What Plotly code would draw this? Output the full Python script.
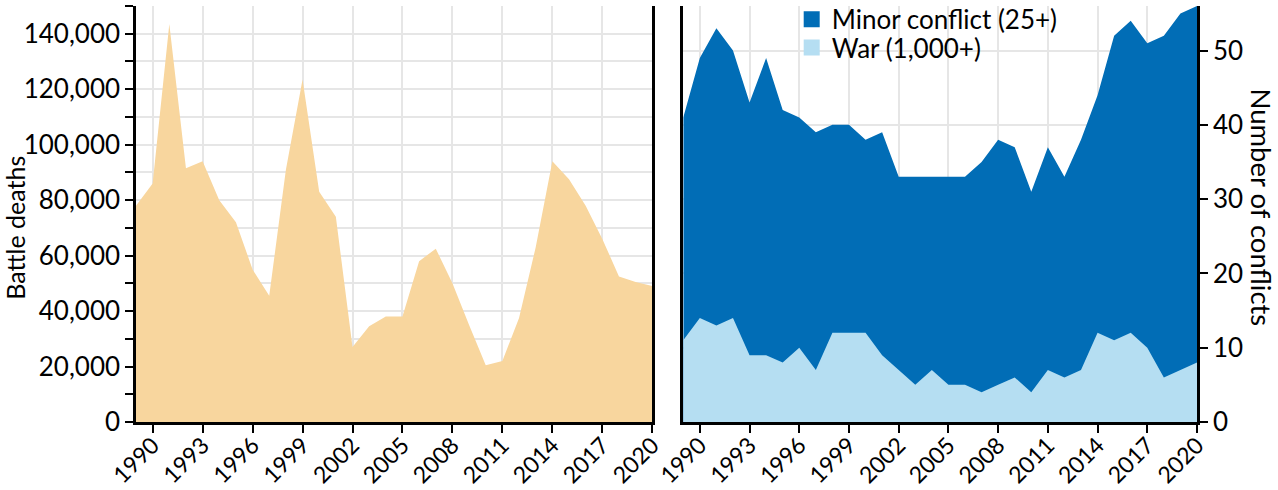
import plotly.graph_objects as go

years = list(range(1989, 2021))

battle_deaths = [78000, 86000, 143500, 91500, 94000, 80000, 72000, 55000,
                 45500, 91000, 123500, 83000, 74000, 27000, 34500, 38000,
                 38000, 58000, 62500, 50000, 35000, 20500, 22000, 37500,
                 63000, 94000, 87500, 78000, 66000, 52500, 50500, 49000]

total_conflicts = [41, 49, 53, 50, 43, 49, 42, 41, 39, 40, 40, 38, 39, 33, 33, 33,
                   33, 33, 35, 38, 37, 31, 37, 33, 38, 44, 52, 54, 51, 52, 55, 56]

wars = [11, 14, 13, 14, 9, 9, 8, 10, 7, 12, 12, 12, 9, 7, 5, 7,
        5, 5, 4, 5, 6, 4, 7, 6, 7, 12, 11, 12, 10, 6, 7, 8]

tick_years = [1990, 1993, 1996, 1999, 2002, 2005, 2008, 2011, 2014, 2017, 2020]
deaths_ticks = [0, 20000, 40000, 60000, 80000, 100000, 120000, 140000]
deaths_labels = ["0", "20,000", "40,000", "60,000", "80,000", "100,000", "120,000", "140,000"]
conflict_ticks = [0, 10, 20, 30, 40, 50]
legend_names = ["Minor conflict (25+)", "War (1,000+)"]

FONT = "Lato"
TAN = "#F8D69E"
DARK = "#016DB6"
LIGHT = "#B5DEF2"
GRID = "#E6E6E6"

fig = go.Figure()
fig.add_trace(go.Scatter(x=years, y=battle_deaths, fill="tozeroy", mode="none",
                         fillcolor=TAN, xaxis="x", yaxis="y", showlegend=False,
                         name="Battle deaths"))
fig.add_trace(go.Scatter(x=years, y=total_conflicts, fill="tozeroy", mode="none",
                         fillcolor=DARK, xaxis="x2", yaxis="y2", showlegend=False,
                         name=legend_names[0]))
fig.add_trace(go.Scatter(x=years, y=wars, fill="tozeroy", mode="none",
                         fillcolor=LIGHT, xaxis="x2", yaxis="y2", showlegend=False,
                         name=legend_names[1]))
# legend swatches (squares), one legend each so rows sit tightly
for nm, col, lg in zip(legend_names, [DARK, LIGHT], ["legend", "legend2"]):
    fig.add_trace(go.Scatter(x=[None], y=[None], mode="markers", name=nm,
                             marker=dict(symbol="square", size=20, color=col),
                             xaxis="x2", yaxis="y2", legend=lg))

ax_common = dict(showline=True, linecolor="black", linewidth=2.5,
                 ticks="outside", ticklen=8, tickwidth=2, tickcolor="black",
                 showgrid=True, gridcolor=GRID, gridwidth=1.5, zeroline=False,
                 automargin=False)
y_font = dict(family=FONT, size=26, color="black")
x_font = dict(family=FONT, size=23, color="black")

leg_common = dict(xanchor="left", yanchor="middle", bgcolor="rgba(0,0,0,0)",
                  font=dict(family=FONT, size=26, color="black"), itemwidth=30)

fig.update_layout(
    width=1278, height=490,
    margin=dict(l=136, r=81, t=6, b=68, autoexpand=False),
    paper_bgcolor="white", plot_bgcolor="white",
    font=dict(family=FONT, size=25, color="black"),
    xaxis=dict(domain=[0, 0.4866], range=[1989, 2020], tickvals=tick_years,
               tickangle=-45, anchor="y", tickfont=x_font, ticklabelstandoff=-10,
               **ax_common),
    yaxis=dict(range=[0, 150000], tickvals=deaths_ticks, ticktext=deaths_labels,
               anchor="x", mirror=True, tickfont=y_font,
               minor=dict(tick0=0, dtick=10000, ticks="outside", ticklen=8,
                          tickwidth=2, tickcolor="black", showgrid=True,
                          gridcolor=GRID, gridwidth=1.5),
               **ax_common),
    xaxis2=dict(domain=[0.5158, 1], range=[1989, 2020], tickvals=tick_years,
                tickangle=-45, anchor="y2", tickfont=x_font, ticklabelstandoff=-10,
                **ax_common),
    yaxis2=dict(range=[0, 56], tickvals=conflict_ticks, anchor="x2", side="right",
                mirror=True, tickfont=y_font, **ax_common),
    legend=dict(x=0.618, y=0.968, **leg_common),
    legend2=dict(x=0.618, y=0.900, **leg_common),
    annotations=[
        dict(text="Battle deaths", x=-0.1135, y=0.466, xref="paper", yref="paper",
             xanchor="center", yanchor="middle",
             textangle=-90, showarrow=False, font=dict(family=FONT, size=25)),
        dict(text="Number of conflicts", x=1.0612, y=0.516, xref="paper", yref="paper",
             xanchor="center", yanchor="middle",
             textangle=90, showarrow=False, font=dict(family=FONT, size=27.5)),
    ],
)

fig.write_html("out.html", config={"displayModeBar": False},
               post_script="document.body.style.margin='0';document.body.style.overflow='hidden';")
